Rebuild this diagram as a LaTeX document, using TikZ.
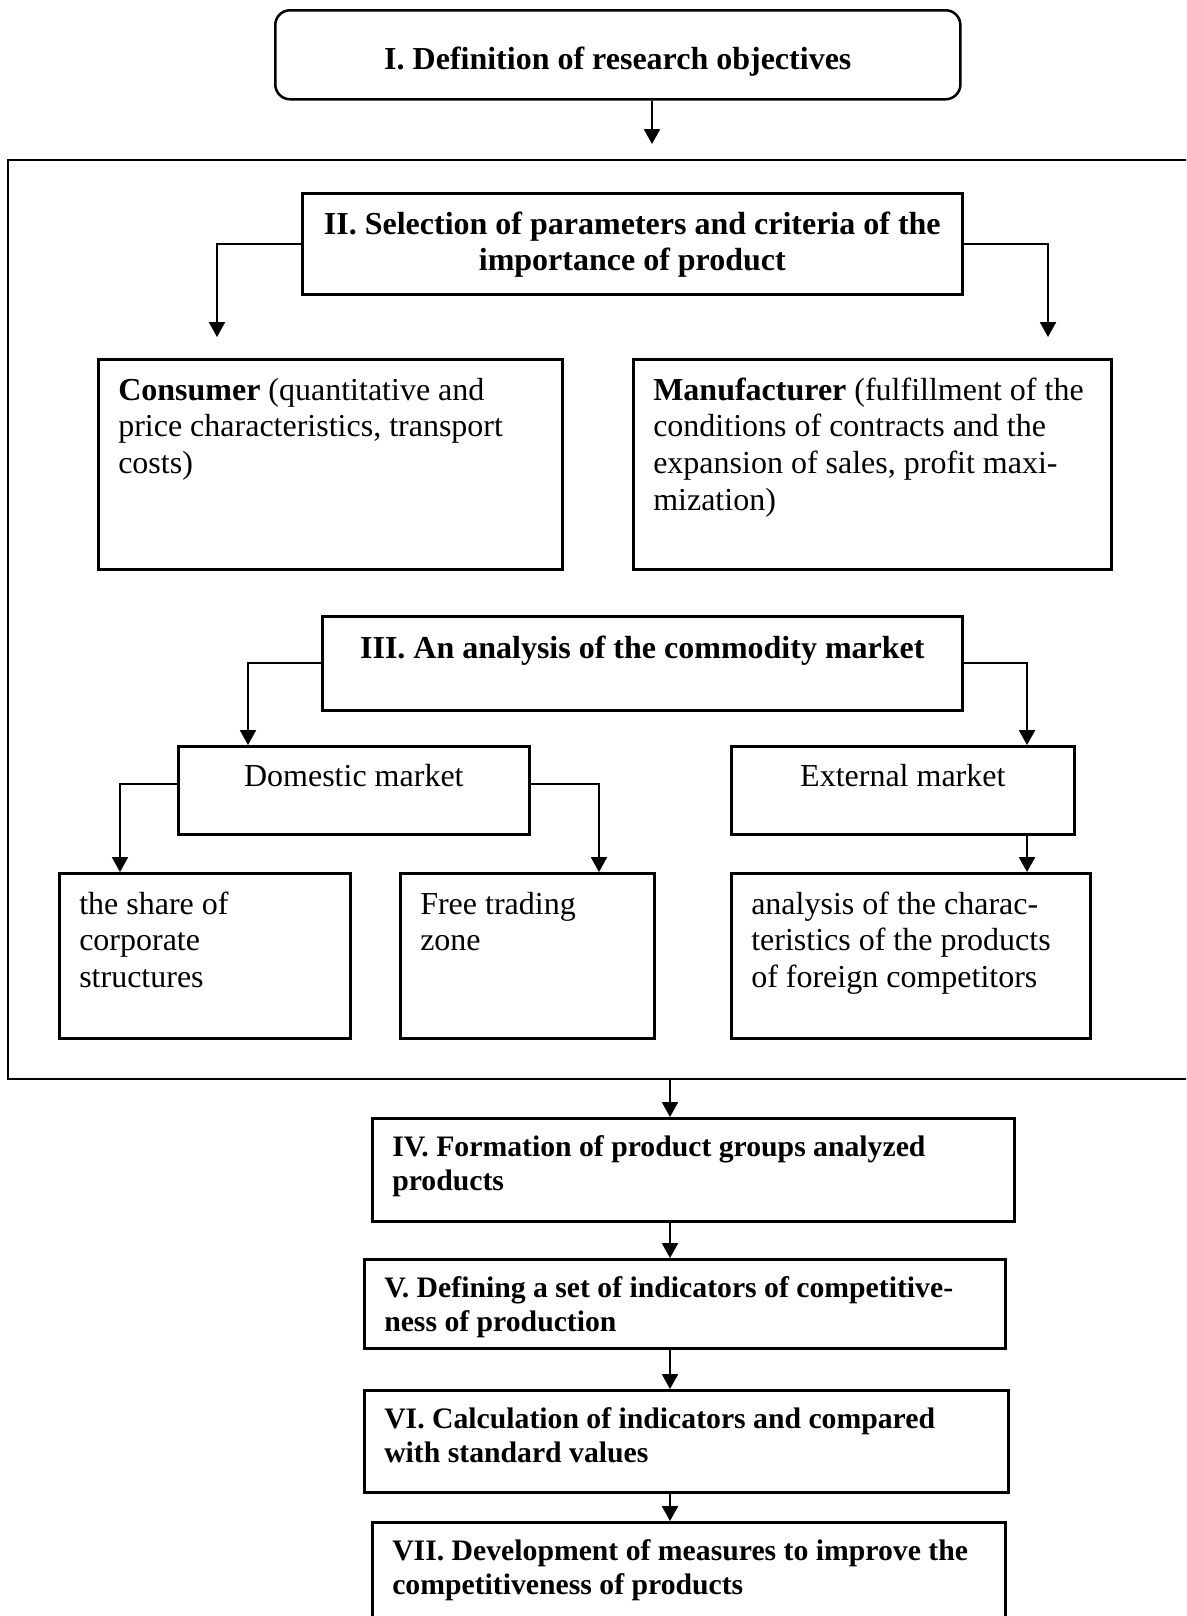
\documentclass[tikz,border=0pt]{standalone}
\usepackage{fontspec}
\setmainfont{Liberation Serif}
\usetikzlibrary{arrows.meta}

\newdimen\px
\px=0.4375pt
% text block of a box: width, height, top pad (all in px)
\newcommand{\cell}[5][\raggedright]{\parbox[t][#3\px][t]{#2\px}{#1\vspace*{#4\px}\strut #5}}

\begin{document}
\begin{tikzpicture}[x=0.4375pt, y=-0.4375pt,
    box/.style = {draw, line width=1.1pt, inner xsep=8.75pt, inner ysep=0pt, anchor=north west,
                  font=\fontsize{14}{16.1}\selectfont},
    cbox/.style = {box, inner xsep=2pt},
    lowbox/.style = {box, font=\fontsize{13}{14.95}\selectfont\bfseries},
    arr/.style = {line width=0.8pt, -{Triangle[length=6.5pt, width=7pt]}},
    frame/.style = {line width=1.3pt}
    ]
    \useasboundingbox (0,0) rectangle (1186,1616);
    \clip (0,0) rectangle (1186,1616);

    \node[cbox, rounded corners=6.5pt, font=\fontsize{14}{16.1}\selectfont\bfseries] (obj) at (274,9)
        {\cell[\centering]{676}{89}{33}{I. Definition of research objectives}};

    % big frame, open on the right
    \coordinate (ftl) at (8,160);
    \coordinate (fbl) at (8,1079);
    \draw[frame] (1200,160) -- (ftl) -- (fbl) -- (1200,1079);

    \node[cbox, font=\fontsize{14}{16.1}\selectfont\bfseries] (sel) at (301,192)
        {\cell[\centering]{651}{101}{15}{II. Selection of parameters and criteria of the\\ importance of product}};

    \node[box] (cons) at (97,358)
        {\cell{424}{210}{15}{\textbf{Consumer} (quantitative and\\ price characteristics, transport\\ costs)}};
    \node[box] (manu) at (632,358)
        {\cell{438}{210}{15}{\textbf{Manufacturer} (fulfillment of the\\ conditions of contracts and the\\ expansion of sales, profit maxi-\\ mization)}};

    \node[cbox, font=\fontsize{14}{16.1}\selectfont\bfseries] (ana) at (321,615)
        {\cell[\centering]{631}{94}{16}{III. An analysis of the commodity market}};

    \node[cbox] (dom) at (177,745) {\cell[\centering]{342}{88}{14}{Domestic market}};
    \node[cbox] (ext) at (730,745) {\cell[\centering]{334}{88}{14}{External market}};

    \node[box] (share) at (58,872) {\cell{251}{165}{15}{the share of\\ corporate\\ structures}};
    \node[box] (free) at (399,872) {\cell{214}{165}{15}{Free trading\\ zone}};
    \node[box] (comp) at (730,872)
        {\cell{319}{165}{15}{analysis of the charac-\\ teristics of the products\\ of foreign competitors}};

    \node[lowbox] (grp) at (371,1117)
        {\cell{602}{103}{14}{IV. Formation of product groups analyzed\\ products}};
    \node[lowbox] (ind) at (363,1258)
        {\cell{601}{89}{14}{V. Defining a set of indicators of competitive-\\ ness of production}};
    \node[lowbox] (calc) at (363,1389)
        {\cell{604}{102}{14}{VI. Calculation of indicators and compared\\ with standard values}};
    \node[lowbox] (meas) at (371,1521)
        {\cell{593}{130}{14}{VII. Development of measures to improve the\\ competitiveness of products}};

    % connectors
    \coordinate (t1) at (652,144);
    \coordinate (c1) at (217,337);
    \coordinate (c2) at (1048,337);
    \coordinate (d1) at (248,0);
    \coordinate (d2) at (1027,0);
    \coordinate (d3) at (120,0);
    \coordinate (d4) at (599,0);
    \coordinate (d5) at (670,1079);

    \draw[arr] (t1 |- obj.south) -- (t1);
    \draw[arr] (sel.west) -| (c1);
    \draw[arr] (sel.east) -| (c2);
    \draw[arr] (ana.west) -| (d1 |- dom.north);
    \draw[arr] (ana.east) -| (d2 |- ext.north);
    \draw[arr] ([yshift=2.6pt]dom.west) -| (d3 |- share.north);
    \draw[arr] ([yshift=2.6pt]dom.east) -| (d4 |- free.north);
    \draw[arr] (d2 |- ext.south) -- (d2 |- comp.north);
    \draw[arr] (d5) -- (d5 |- grp.north);
    \draw[arr] (d5 |- grp.south) -- (d5 |- ind.north);
    \draw[arr] (d5 |- ind.south) -- (d5 |- calc.north);
    \draw[arr] (d5 |- calc.south) -- (d5 |- meas.north);
\end{tikzpicture}
\end{document}
